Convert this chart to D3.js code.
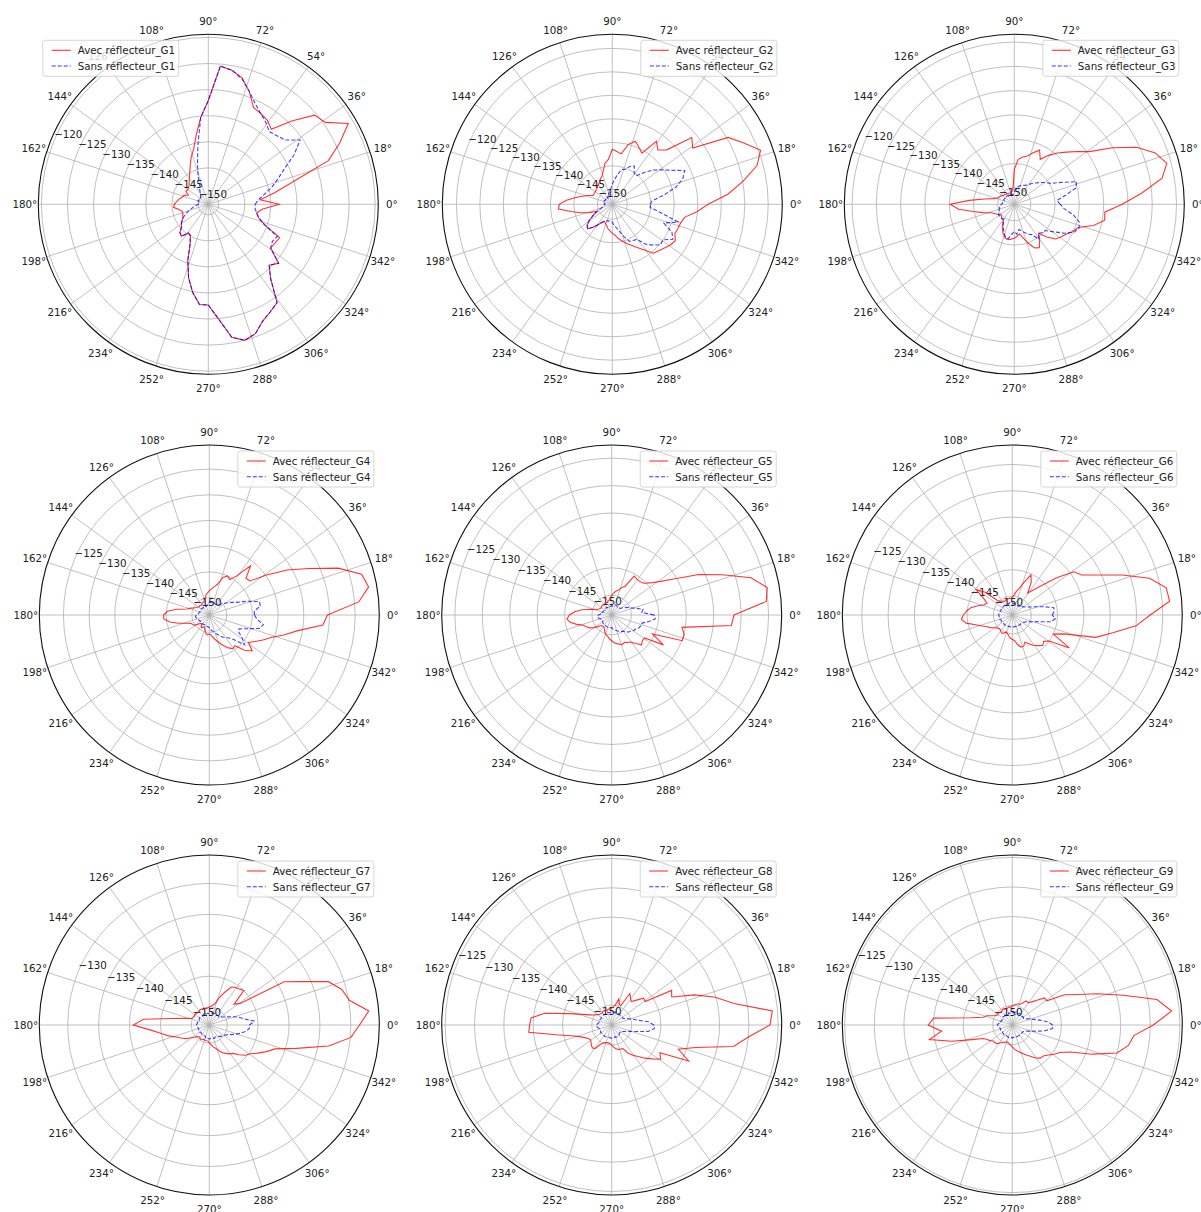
<!DOCTYPE html>
<html><head><meta charset="utf-8">
<script src="https://cdn.jsdelivr.net/npm/d3@7"></script>
<style>body{margin:0;background:#fff}svg{display:block}text{font-family:"DejaVu Sans",sans-serif}</style>
</head><body><svg id="chart" width="1201" height="1212"></svg>
<script>
// ---------- data ----------
const angles = [0,5,10,15,20,25,30,35,40,45,50,55,60,65,70,75,80,85,90,95,100,105,110,115,120,125,130,135,140,145,150,155,160,165,170,175,180,185,190,195,200,205,210,215,220,225,230,235,240,245,250,255,260,265,270,275,280,285,290,295,300,305,310,315,320,325,330,335,340,345,350,355];
const angleTicks = [0,18,36,54,72,90,108,126,144,162,180,198,216,234,252,270,288,306,324,342];
const radialTicks = [-150,-145,-140,-135,-130,-125,-120];
const groups = ["G1","G2","G3","G4","G5","G6","G7","G8","G9"];
const rMin = [-152.0,-153.2,-153.4,-153.4,-153.6,-153.6,-152.9,-153.4,-153.3];
const rMax = [-119.4,-117.0,-118.4,-120.3,-122.6,-121.3,-125.4,-124.4,-124.6];
const legendSide = ["left","right","right","right","right","right","right","right","right"];

const avecG1 = [-138.4,-142.0,-139.0,-135.1,-127.5,-124.2,-121.0,-124.6,-125.4,-129.4,
 -133.2,-132.3,-131.9,-131.5,-129.0,-126.9,-125.9,-125.4,-132.1,-135.3,
 -138.6,-141.1,-142.4,-143.8,-144.9,-145.7,-146.3,-146.8,-147.0,-147.2,
 -147.0,-147.8,-147.0,-146.8,-146.3,-145.9,-145.5,-145.3,-146.3,-146.8,
 -146.8,-146.6,-146.3,-145.7,-145.3,-144.3,-144.0,-145.3,-145.1,-143.8,
 -140.5,-137.4,-134.8,-132.7,-132.7,-130.0,-126.1,-125.0,-125.6,-127.3,
 -128.2,-129.0,-133.4,-135.5,-134.4,-137.4,-137.2,-136.9,-140.5,-142.0,
 -142.6,-141.5];
const sansG1 = [-143.0,-142.4,-141.1,-139.4,-137.8,-135.9,-133.0,-130.5,-132.8,-133.4,
 -133.8,-132.8,-131.9,-130.7,-129.0,-127.1,-125.9,-125.4,-132.1,-135.3,
 -140.5,-144.0,-146.3,-148.2,-148.7,-149.3,-149.7,-149.9,-150.1,-150.0,
 -150.2,-150.1,-149.9,-150.1,-150.3,-150.1,-150.1,-149.7,-149.1,-148.6,
 -147.8,-147.0,-146.3,-145.7,-145.3,-144.3,-144.0,-145.3,-145.1,-143.8,
 -140.5,-137.4,-134.8,-132.7,-132.7,-130.0,-126.1,-125.0,-125.6,-127.3,
 -128.2,-129.0,-133.4,-135.5,-134.4,-137.4,-137.8,-137.4,-140.5,-142.0,
 -142.6,-143.0];
const avecG2 = [-132.8,-128.5,-124.9,-121.3,-119.6,-122.3,-124.7,-132.3,-131.1,-136.8,
 -138.1,-136.8,-140.6,-139.8,-138.9,-140.0,-142.3,-141.9,-141.5,-143.6,
 -144.3,-145.8,-146.8,-147.2,-147.7,-148.1,-148.3,-148.5,-148.6,-148.7,
 -148.7,-148.7,-147.7,-146.6,-145.1,-143.4,-141.9,-141.7,-144.3,-146.2,
 -147.9,-149.6,-148.5,-147.2,-146.2,-145.8,-146.8,-147.9,-148.7,-149.2,
 -148.9,-148.5,-147.9,-147.5,-147.0,-146.6,-145.8,-145.1,-144.3,-143.6,
 -142.6,-141.3,-139.6,-139.2,-138.7,-138.1,-137.7,-138.5,-138.3,-138.1,
 -137.5,-135.1];
const sansG2 = [-145.1,-144.7,-142.1,-139.2,-137.2,-136.2,-138.7,-140.4,-141.9,-143.6,
 -145.3,-145.1,-143.8,-144.3,-145.3,-145.5,-146.8,-147.9,-148.9,-149.8,
 -150.2,-150.6,-150.9,-151.5,-151.3,-151.6,-151.4,-151.5,-151.7,-151.4,
 -151.5,-151.3,-151.6,-151.5,-151.4,-151.6,-151.7,-151.5,-151.3,-151.1,
 -150.6,-149.6,-148.5,-147.2,-146.2,-145.8,-146.8,-147.9,-148.7,-149.2,
 -149.4,-149.6,-149.6,-149.6,-149.4,-148.7,-148.1,-147.2,-145.8,-144.5,
 -144.3,-144.1,-142.1,-140.9,-139.8,-140.0,-138.3,-139.2,-141.5,-138.7,
 -142.6,-145.1];
const avecG3 = [-131.2,-127.1,-122.5,-120.9,-122.5,-125.6,-130.1,-134.5,-136.5,-138.2,
 -139.6,-141.1,-142.7,-141.1,-142.1,-143.1,-143.5,-144.1,-146.2,-150.3,
 -150.7,-150.7,-150.9,-150.9,-150.9,-150.7,-150.7,-150.5,-150.5,-150.3,
 -150.1,-149.9,-149.7,-148.9,-147.2,-144.1,-140.2,-141.9,-144.8,-146.8,
 -148.3,-148.9,-149.3,-149.7,-149.9,-149.7,-149.5,-149.5,-148.5,-147.6,
 -146.8,-146.2,-146.0,-146.2,-146.4,-146.8,-147.2,-146.2,-144.8,-143.5,
 -143.1,-144.3,-145.6,-143.9,-142.3,-141.7,-141.1,-140.2,-139.4,-136.5,
 -134.5,-134.7];
const sansG3 = [-143.9,-144.6,-142.7,-140.2,-139.8,-142.7,-144.8,-145.6,-146.4,-147.2,
 -147.8,-148.5,-148.9,-149.1,-149.3,-149.5,-149.9,-150.3,-150.7,-151.3,
 -151.4,-151.2,-151.3,-151.4,-151.2,-151.3,-151.1,-151.1,-151.0,-151.2,
 -151.1,-151.0,-151.2,-151.1,-150.9,-151.0,-150.7,-150.5,-150.3,-150.3,
 -150.1,-149.9,-149.7,-149.5,-149.5,-149.4,-149.5,-149.7,-148.9,-148.1,
 -147.2,-146.4,-146.2,-147.2,-147.8,-147.2,-148.1,-147.8,-147.2,-146.6,
 -146.2,-144.6,-145.6,-145.2,-145.0,-143.5,-141.5,-139.8,-139.2,-139.6,
 -141.1,-143.1];
const avecG4 = [-130.4,-124.2,-121.9,-122.7,-126.7,-132.0,-135.9,-139.8,-143.1,-143.3,
 -140.9,-144.1,-145.4,-145.0,-145.6,-147.2,-147.8,-148.3,-148.7,-149.1,
 -149.5,-150.1,-150.5,-150.7,-150.7,-150.9,-150.9,-150.8,-150.9,-150.7,
 -150.5,-150.1,-149.5,-148.9,-147.0,-145.2,-144.5,-144.5,-145.6,-147.2,
 -148.7,-149.5,-149.7,-149.9,-150.7,-151.1,-151.1,-150.7,-150.5,-150.9,
 -150.7,-150.3,-149.7,-149.5,-149.7,-149.5,-148.9,-148.3,-147.6,-146.8,
 -146.0,-145.4,-145.6,-143.7,-142.5,-144.1,-143.1,-141.9,-140.6,-138.4,
 -135.9,-131.2];
const sansG4 = [-144.6,-144.6,-143.3,-143.3,-145.6,-147.6,-148.5,-149.3,-149.9,-150.5,
 -150.9,-150.8,-151.0,-150.9,-150.8,-150.9,-151.0,-150.9,-150.9,-151.5,
 -151.4,-151.5,-151.6,-151.5,-151.4,-151.5,-151.6,-151.5,-151.4,-151.5,
 -151.5,-151.4,-151.5,-151.4,-151.3,-151.2,-150.9,-150.7,-150.7,-150.9,
 -150.9,-151.1,-151.3,-151.2,-151.3,-151.4,-151.3,-151.2,-151.3,-151.3,
 -151.2,-151.3,-151.1,-151.1,-150.9,-150.5,-150.3,-149.9,-149.5,-149.1,
 -148.5,-148.0,-147.6,-146.6,-144.4,-145.6,-146.8,-147.0,-145.6,-143.3,
 -142.7,-144.1];
const avecG5 = [-131.3,-125.3,-124.8,-127.3,-132.1,-136.1,-140.5,-143.0,-144.5,-145.4,
 -145.6,-145.6,-145.4,-147.8,-148.3,-148.9,-149.2,-149.6,-150.0,-150.5,
 -150.9,-151.0,-151.2,-151.1,-151.2,-151.3,-151.2,-151.1,-151.2,-151.3,
 -151.2,-151.0,-150.7,-149.6,-148.1,-146.8,-145.9,-145.4,-145.9,-147.0,
 -148.1,-148.5,-148.9,-149.6,-150.3,-150.9,-151.0,-151.0,-150.9,-150.5,
 -150.1,-149.8,-149.6,-149.2,-148.9,-148.5,-148.3,-148.1,-147.9,-148.1,
 -147.8,-147.6,-146.8,-145.9,-146.3,-146.3,-142.7,-145.4,-139.9,-139.9,
 -140.6,-131.7];
const sansG5 = [-145.9,-148.1,-147.8,-148.9,-149.8,-150.3,-150.9,-151.4,-151.7,-151.6,
 -151.7,-151.8,-151.7,-151.6,-151.7,-151.8,-151.9,-152.0,-151.9,-152.0,
 -152.0,-151.9,-152.0,-152.1,-152.0,-151.9,-152.0,-152.0,-151.9,-152.0,
 -152.0,-151.9,-152.0,-151.8,-151.9,-151.6,-151.2,-151.0,-151.0,-151.2,
 -151.5,-151.4,-151.5,-151.6,-151.5,-151.4,-151.5,-151.5,-151.4,-151.3,
 -151.3,-151.2,-151.3,-151.3,-151.3,-151.0,-150.9,-150.7,-150.5,-150.3,
 -150.1,-150.0,-149.6,-149.2,-149.0,-148.7,-148.5,-148.1,-147.9,-147.9,
 -146.7,-145.6];
const avecG6 = [-127.4,-123.6,-123.9,-126.6,-131.4,-135.6,-138.4,-139.3,-142.6,-145.7,
 -147.4,-148.5,-146.4,-145.2,-146.9,-148.3,-149.0,-149.8,-150.2,-150.4,
 -150.4,-150.4,-150.4,-150.6,-150.6,-150.4,-150.2,-149.8,-146.9,-145.2,
 -147.3,-148.3,-147.9,-146.8,-145.6,-144.9,-144.3,-143.9,-144.7,-146.4,
 -147.5,-148.3,-148.8,-149.4,-149.8,-150.0,-150.0,-149.8,-149.6,-149.8,
 -150.2,-150.0,-149.6,-149.2,-149.0,-148.7,-147.9,-147.3,-147.3,-147.9,
 -147.3,-146.6,-146.0,-145.4,-145.8,-145.0,-141.1,-145.0,-143.1,-137.2,
 -134.2,-130.0];
const sansG6 = [-146.0,-145.6,-145.6,-147.5,-149.0,-150.0,-150.6,-150.9,-151.1,-151.5,
 -151.4,-151.5,-151.6,-151.5,-151.4,-151.5,-151.4,-151.5,-151.3,-151.3,
 -151.2,-151.3,-151.4,-151.3,-151.2,-151.3,-151.3,-151.2,-151.3,-151.4,
 -151.3,-151.2,-151.3,-151.2,-151.3,-151.1,-151.0,-151.1,-151.0,-151.1,
 -151.1,-151.3,-151.2,-151.3,-151.4,-151.3,-151.2,-151.3,-151.3,-151.2,
 -151.3,-151.4,-151.3,-151.3,-151.2,-151.3,-151.4,-151.3,-151.3,-151.2,
 -151.3,-151.3,-151.2,-151.3,-151.3,-151.2,-150.9,-150.6,-149.8,-148.7,
 -146.2,-145.4];
const avecG7 = [-128.6,-127.0,-129.9,-130.7,-132.4,-136.3,-138.9,-146.8,-147.7,-145.0,
 -145.3,-145.5,-145.8,-147.1,-148.2,-149.3,-149.7,-149.8,-150.0,-150.1,
 -150.2,-150.1,-150.2,-150.1,-150.0,-150.1,-150.2,-150.1,-150.1,-150.0,
 -150.1,-150.0,-149.8,-148.7,-146.8,-142.2,-140.6,-143.4,-145.0,-146.1,
 -147.2,-147.9,-148.5,-149.3,-149.8,-150.3,-150.4,-150.3,-150.2,-150.3,
 -150.4,-150.3,-150.3,-150.3,-150.0,-149.7,-149.3,-149.0,-148.5,-148.0,
 -147.6,-147.2,-146.9,-146.1,-145.3,-144.8,-143.8,-142.7,-141.6,-138.3,
 -133.3,-129.9];
const sansG7 = [-146.4,-145.6,-147.2,-148.0,-149.0,-149.8,-150.3,-150.6,-150.9,-150.8,
 -150.9,-151.0,-150.9,-150.8,-150.9,-151.0,-150.9,-151.0,-151.1,-151.0,
 -151.0,-151.1,-151.0,-150.9,-151.0,-151.1,-151.0,-151.0,-150.9,-151.0,
 -151.0,-151.1,-151.0,-150.9,-151.0,-150.9,-150.8,-150.9,-151.0,-151.0,
 -151.1,-151.0,-150.9,-151.0,-151.0,-151.1,-151.0,-150.9,-151.0,-151.0,
 -151.0,-150.7,-150.8,-150.7,-150.6,-150.7,-150.8,-150.7,-150.6,-150.7,
 -150.7,-150.6,-150.5,-150.3,-150.1,-150.0,-149.7,-149.2,-148.5,-147.7,
 -146.9,-146.4];
const avecG8 = [-126.4,-125.9,-132.2,-135.1,-138.4,-142.1,-141.6,-146.4,-146.3,-147.4,
 -148.2,-147.8,-147.2,-149.8,-149.6,-148.8,-150.0,-150.3,-150.5,-150.7,
 -150.6,-150.7,-150.8,-150.7,-150.6,-150.7,-150.8,-150.7,-150.6,-150.3,
 -150.0,-149.3,-148.1,-145.9,-141.8,-139.6,-139.4,-139.2,-143.8,-146.3,
 -147.6,-148.3,-148.8,-149.0,-148.8,-148.5,-148.3,-148.5,-149.6,-150.0,
 -150.2,-150.3,-150.3,-150.2,-150.0,-149.6,-149.3,-149.1,-149.0,-149.0,
 -147.9,-147.1,-146.4,-145.4,-144.4,-143.2,-143.9,-138.9,-141.3,-138.6,
 -132.3,-130.0];
const sansG8 = [-146.2,-147.1,-148.8,-149.6,-150.3,-150.8,-151.2,-151.1,-151.2,-151.3,
 -151.2,-151.1,-151.2,-151.3,-151.2,-151.1,-151.2,-151.3,-151.2,-151.2,
 -151.3,-151.2,-151.1,-151.2,-151.3,-151.2,-151.2,-151.1,-151.2,-151.2,
 -151.3,-151.2,-151.1,-151.2,-151.2,-151.0,-150.8,-150.8,-151.0,-151.2,
 -151.2,-151.3,-151.2,-151.1,-151.2,-151.3,-151.2,-151.2,-151.1,-151.2,
 -151.2,-151.3,-151.2,-151.2,-151.1,-151.2,-151.2,-151.3,-151.2,-151.2,
 -151.2,-151.2,-151.4,-151.5,-151.5,-151.5,-151.2,-150.8,-150.2,-149.1,
 -147.1,-146.1];
const avecG9 = [-129.5,-126.3,-128.5,-133.9,-137.9,-141.1,-143.1,-146.2,-146.2,-147.4,
 -148.2,-148.7,-148.6,-149.2,-149.6,-149.6,-149.8,-149.9,-150.1,-150.3,
 -150.2,-150.3,-150.4,-150.3,-150.2,-150.3,-150.4,-150.3,-150.2,-150.3,
 -150.1,-149.6,-148.7,-148.2,-146.2,-140.0,-139.1,-141.3,-139.1,-142.7,
 -146.1,-147.9,-148.4,-148.7,-149.1,-149.1,-149.2,-149.6,-149.9,-150.1,
 -150.3,-150.3,-150.1,-149.9,-149.6,-149.2,-148.9,-148.6,-148.2,-147.7,
 -147.2,-146.5,-146.0,-145.9,-145.4,-144.7,-144.0,-142.5,-138.9,-135.0,
 -133.4,-132.7];
const sansG9 = [-146.5,-147.2,-148.6,-149.6,-150.3,-150.8,-151.1,-151.0,-151.1,-151.2,
 -151.1,-151.0,-151.1,-151.2,-151.1,-151.0,-151.1,-151.2,-151.1,-151.3,
 -151.3,-151.2,-151.3,-151.4,-151.3,-151.2,-151.3,-151.3,-151.2,-151.3,
 -151.3,-151.4,-151.3,-151.2,-151.3,-150.9,-150.8,-150.9,-150.9,-151.2,
 -151.2,-151.1,-151.2,-151.3,-151.2,-151.2,-151.1,-151.2,-151.3,-151.2,
 -151.2,-151.1,-151.2,-151.2,-151.1,-151.2,-151.2,-151.1,-151.2,-151.2,
 -151.2,-151.2,-151.3,-151.2,-151.2,-151.2,-151.1,-150.8,-150.3,-149.2,
 -147.7,-146.5];

const avecSeries = [avecG1,avecG2,avecG3,avecG4,avecG5,avecG6,avecG7,avecG8,avecG9];
const sansSeries = [sansG1,sansG2,sansG3,sansG4,sansG5,sansG6,sansG7,sansG8,sansG9];

// ---------- layout ----------
const centers = [[208.3,204.3],[612.3,204.3],[1014.3,204.3],
                 [209.3,615],[611.7,615],[1012.3,615],
                 [209.3,1025],[611.7,1025],[1012.3,1025]];
const R = 170;
const FS = 10.3;
const svg = d3.select("#chart");
svg.append("rect").attr("width",1201).attr("height",1212).attr("fill","#fff");

const aScale = d3.scaleLinear().domain([0,360]).range([0,2*Math.PI]);
const fmt = v => (v<0?"\u2212":"")+Math.abs(v);

groups.forEach((gName,i)=>{
  const [cx,cy] = centers[i];
  const rs = d3.scaleLinear().domain([rMin[i],rMax[i]]).range([0,R]);
  const g = svg.append("g").attr("transform",`translate(${cx},${cy})`);
  const px = (deg,r)=> r*Math.cos(aScale(deg));
  const py = (deg,r)=> -r*Math.sin(aScale(deg));

  // rings
  const ticks = radialTicks.filter(t=>t>rMin[i] && t<rMax[i]);
  g.selectAll("circle.ring").data(ticks).join("circle").attr("class","ring")
    .attr("r",d=>rs(d)).attr("fill","none").attr("stroke","#b0b0b0").attr("stroke-width",0.8);
  // spokes
  g.selectAll("line.spoke").data(angleTicks).join("line").attr("class","spoke")
    .attr("x1",0).attr("y1",0).attr("x2",d=>px(d,R)).attr("y2",d=>py(d,R))
    .attr("stroke","#b0b0b0").attr("stroke-width",0.8);
  // outer spine
  g.append("circle").attr("r",R).attr("fill","none").attr("stroke","#111").attr("stroke-width",1.1);
  // angle labels
  g.selectAll("text.alab").data(angleTicks).join("text").attr("class","alab")
    .attr("x",d=>px(d,R+13.5)).attr("y",d=>py(d,R+13.5))
    .attr("text-anchor","middle").attr("dominant-baseline","central")
    .attr("font-size",FS).attr("fill","#222").text(d=>d+"\u00b0");
  // radial labels
  const la = 157.5;
  g.selectAll("text.rlab").data(ticks).join("text").attr("class","rlab")
    .attr("x",d=>px(la,rs(d))).attr("y",d=>py(la,rs(d))-2)
    .attr("font-size",FS).attr("fill","#222").text(d=>fmt(d));

  // series
  const line = d3.line()
    .x(d=>px(d[0],rs(d[1]))).y(d=>py(d[0],rs(d[1])))
    .curve(d3.curveLinearClosed);
  const avec = angles.map((a,k)=>[a,avecSeries[i][k]]);
  const sans = angles.map((a,k)=>[a,sansSeries[i][k]]);
  g.append("path").attr("d",line(avec)).attr("fill","none")
    .attr("stroke","#ff0000").attr("stroke-opacity",0.8).attr("stroke-width",1.1);
  g.append("path").attr("d",line(sans)).attr("fill","none")
    .attr("stroke","#0000ff").attr("stroke-opacity",0.75).attr("stroke-width",1.1)
    .attr("stroke-dasharray","4,2");

  // legend
  const lw = 136, lh = 36;
  const lx = legendSide[i]==="left" ? -165.6 : 28.5;
  const ly = -164;
  const lg = g.append("g").attr("transform",`translate(${lx},${ly})`);
  lg.append("rect").attr("width",lw).attr("height",lh).attr("rx",2.5)
    .attr("fill","#fff").attr("fill-opacity",0.8).attr("stroke","#cccccc").attr("stroke-width",0.8);
  const items = [{label:"Avec réflecteur_"+gName,color:"#ff0000",dash:null},
                 {label:"Sans réflecteur_"+gName,color:"#0000ff",dash:"4,2"}];
  items.forEach((it,k)=>{
    const yy = 10 + k*15.7;
    lg.append("line").attr("x1",9).attr("x2",28).attr("y1",yy).attr("y2",yy)
      .attr("stroke",it.color).attr("stroke-opacity",0.8).attr("stroke-width",1.1)
      .attr("stroke-dasharray",it.dash);
    lg.append("text").attr("x",35).attr("y",yy).attr("dominant-baseline","central")
      .attr("font-size",FS).attr("fill","#222").text(it.label);
  });
});
</script>
</body></html>
